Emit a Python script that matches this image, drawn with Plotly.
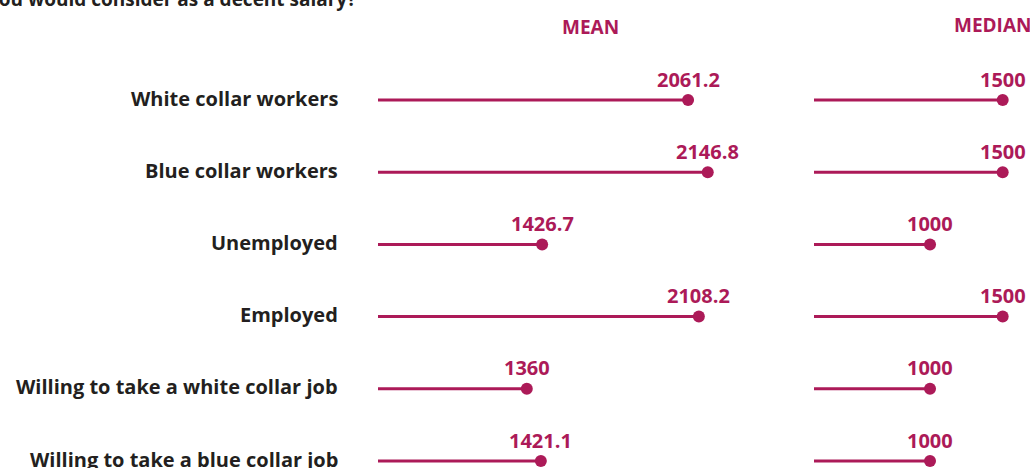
import plotly.graph_objects as go

categories = [
    "White collar workers",
    "Blue collar workers",
    "Unemployed",
    "Employed",
    "Willing to take a white collar job",
    "Willing to take a blue collar job",
]
mean_values = [2061.2, 2146.8, 1426.7, 2108.2, 1360, 1421.1]
median_values = [1500, 1500, 1000, 1500, 1000, 1000]
mean_labels = ["2061.2", "2146.8", "1426.7", "2108.2", "1360", "1421.1"]
median_labels = ["1500", "1500", "1000", "1500", "1000", "1000"]

W, H = 1030, 468
ACCENT = "#AC1A58"
DARK = "#231F20"
FONT = "Open Sans"

MEAN_RANGE = [713, 2374]
MEDIAN_RANGE = [201.6, 1688]

rows = list(range(len(categories)))

fig = go.Figure()


def add_lollipops(values, xaxis, xrange):
    xs, ys = [], []
    for r, v in zip(rows, values):
        xs += [xrange[0], v, None]
        ys += [r, r, None]
    fig.add_trace(go.Scatter(x=xs, y=ys, mode="lines", xaxis=xaxis, yaxis="y",
                             line=dict(color=ACCENT, width=3), hoverinfo="skip",
                             showlegend=False))
    fig.add_trace(go.Scatter(x=values, y=rows, mode="markers", xaxis=xaxis, yaxis="y",
                             marker=dict(color=ACCENT, size=12), showlegend=False))


add_lollipops(mean_values, "x", MEAN_RANGE)
add_lollipops(median_values, "x2", MEDIAN_RANGE)

annotations = []
for r, v, t in zip(rows, mean_values, mean_labels):
    annotations.append(dict(x=v, y=r, xref="x", yref="y", text=f"<b>{t}</b>",
                            showarrow=False, yshift=21, xanchor="center", yanchor="middle",
                            font=dict(family=FONT, size=20, color=ACCENT)))
for r, v, t in zip(rows, median_values, median_labels):
    annotations.append(dict(x=v, y=r, xref="x2", yref="y", text=f"<b>{t}</b>",
                            showarrow=False, yshift=21, xanchor="center", yanchor="middle",
                            font=dict(family=FONT, size=20, color=ACCENT)))
for r, c in zip(rows, categories):
    annotations.append(dict(x=340 / W, y=r, xref="paper", yref="y", text=f"<b>{c}</b>",
                            showarrow=False, yshift=2, xanchor="right", yanchor="middle",
                            font=dict(family=FONT, size=20, color=DARK)))

annotations.append(dict(x=590 / W, y=1 - 27 / H, xref="paper", yref="paper",
                        text="<b>MEAN</b>", showarrow=False, xanchor="center", yanchor="middle",
                        font=dict(family=FONT, size=19, color=ACCENT)))
annotations.append(dict(x=952 / W, y=1 - 25 / H, xref="paper", yref="paper",
                        text="<b>MEDIAN</b>", showarrow=False, xanchor="left", yanchor="middle",
                        font=dict(family=FONT, size=19, color=ACCENT)))
annotations.append(dict(x=358 / W, y=1 + 1 / H, xref="paper", yref="paper",
                        text="<b>you would consider as a decent salary?</b>", showarrow=False,
                        xanchor="right", yanchor="middle",
                        font=dict(family=FONT, size=19, color=DARK)))

spacing = 72.2
top_row_px = 100
y_top = -top_row_px / spacing
y_bottom = (H - top_row_px) / spacing

axis_common = dict(visible=False, showgrid=False, zeroline=False, fixedrange=True)
fig.update_layout(
    width=W, height=H,
    margin=dict(l=0, r=0, t=0, b=0),
    paper_bgcolor="white", plot_bgcolor="white",
    xaxis=dict(domain=[378 / W, 760 / W], range=MEAN_RANGE, **axis_common),
    xaxis2=dict(domain=[814 / W, 1.0], range=MEDIAN_RANGE, **axis_common),
    yaxis=dict(domain=[0, 1], range=[y_bottom, y_top], **axis_common),
    annotations=annotations,
    font=dict(family=FONT),
)

fig.write_html("out.html", config={"displayModeBar": False},
               post_script="document.body.style.margin='0';document.body.style.overflow='hidden';")
